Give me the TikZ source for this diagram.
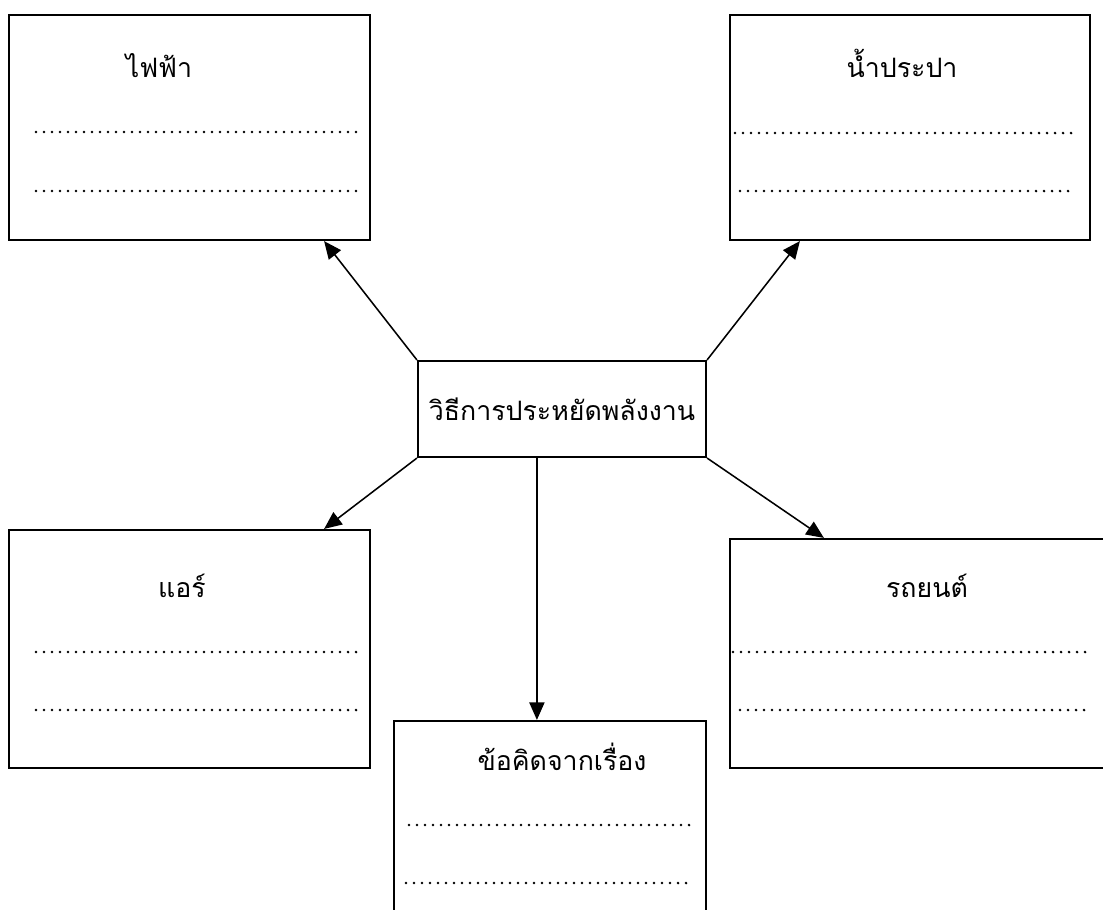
\documentclass[tikz,border=0pt]{standalone}
\usepackage{fontspec}
\newfontfamily\thaifont[Script=Thai]{Loma}
\usetikzlibrary{arrows.meta, positioning, calc}
\tikzset{
    panel/.style={
        rectangle, draw=black, line width=1.5pt, inner sep=0pt
    },
    hubbox/.style={
        rectangle, draw=black, line width=1.5pt, inner sep=0pt,
        minimum width=7.2cm, minimum height=2.4cm,
        font=\thaifont\fontsize{19}{23}\selectfont
    },
    title/.style={anchor=base, inner sep=0pt, font=\thaifont\fontsize{19}{23}\selectfont},
    dotline/.style={line width=2pt, line cap=round, dash pattern=on 0pt off 0.2cm},
    arrow/.style={-{Triangle[length=0.44cm, width=0.38cm]}, line width=1.1pt}
}

\begin{document}
\begin{tikzpicture}[x=0.025cm, y=-0.025cm]
    \useasboundingbox (0,0) rectangle (1103,909);

    % Centre box
    \node[hubbox] (hub) at (562,409) {วิธีการประหยัดพลังงาน};

    % Surrounding boxes
    \node[panel, minimum width=9.025cm, minimum height=5.625cm] (elec) at (189.5,127.5) {};
    \node[panel, minimum width=9cm, minimum height=5.625cm] (water) at (910,127.5) {};
    \node[panel, minimum width=9.025cm, minimum height=5.95cm] (aircon) at (189.5,649) {};
    \node[panel, minimum width=9.625cm, minimum height=5.725cm] (car) at (922.5,653.5) {};
    \node[panel, minimum width=7.8cm, minimum height=5.475cm] (lesson) at (550,830.5) {};

    % Box titles
    \node[title] (elec-t) at (159,77) {ไฟฟ้า};
    \node[title] (water-t) at (902,77) {น้ำประปา};
    \node[title] (aircon-t) at (182,597) {แอร์};
    \node[title] (car-t) at (927,597) {รถยนต์};
    \node[title] (lesson-t) at (562,770) {ข้อคิดจากเรื่อง};

    % Writing lines
    \draw[dotline] (36,132) -- (363,132);
    \draw[dotline] (36,191) -- (363,191);
    \draw[dotline] (735,133) -- (1075,133);
    \draw[dotline] (740,191) -- (1072,191);
    \draw[dotline] (36,652) -- (363,652);
    \draw[dotline] (36,710) -- (363,710);
    \draw[dotline] (733,652) -- (1087,652);
    \draw[dotline] (740,710) -- (1087,710);
    \draw[dotline] (409,825) -- (693,825);
    \draw[dotline] (406,883) -- (692,883);

    % Arrows
    \draw[arrow] (hub.north west) -- ($(elec.south east)+(-47,0)$);
    \draw[arrow] (hub.north east) -- ($(water.south west)+(71,0)$);
    \draw[arrow] (hub.south west) -- ($(aircon.north east)+(-47,0)$);
    \draw[arrow] (hub.south east) -- ($(car.north west)+(95,0)$);
    \draw[arrow] ($(hub.south west)+(120,0)$) coordinate (drop) -- (drop |- lesson.north);

\end{tikzpicture}
\end{document}
